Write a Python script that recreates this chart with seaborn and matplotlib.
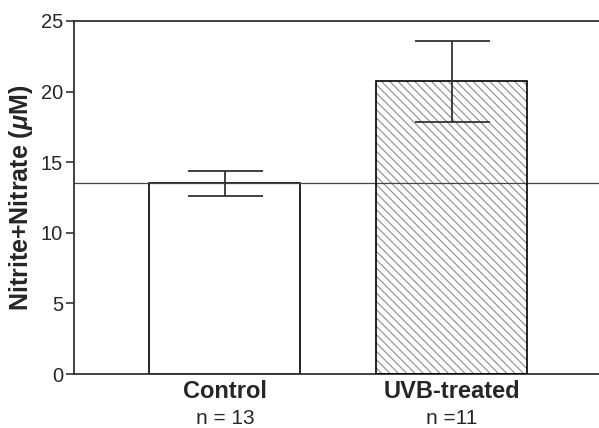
import matplotlib
matplotlib.use("Agg")
import matplotlib.pyplot as plt
import matplotlib.patches as mpatches
import seaborn as sns
import pandas as pd

groups = ["Control", "UVB-treated"]
n_labels = ["n = 13", "n =11"]
means = [13.5, 20.75]
err_low = [12.6, 17.85]
err_high = [14.4, 23.6]
y_ticks = [0, 5, 10, 15, 20, 25]

sns.set_style("ticks")
plt.rcParams['font.family'] = ['Liberation Sans', 'DejaVu Sans']
plt.rcParams['mathtext.fontset'] = 'custom'
plt.rcParams['mathtext.rm'] = 'Liberation Sans:bold'
plt.rcParams['mathtext.it'] = 'Liberation Sans:bold:italic'
plt.rcParams['hatch.linewidth'] = 0.8

df = pd.DataFrame({"group": groups, "value": means})

fig = plt.figure(figsize=(5.99, 4.28), dpi=100)
ax = fig.add_axes([74 / 599, 54 / 428, 525 / 599, 353 / 428])

sns.barplot(data=df, x="group", y="value", color="white", errorbar=None,
            width=0.665, ax=ax, edgecolor="black", linewidth=1.2)

# hatch the treated bar in grey, then redraw a black outline on top
p = ax.patches[1]
p.set_hatch("\\\\\\\\")
p.set_edgecolor("#8c8c8c")
p.set_linewidth(0)
bb = p.get_bbox()
ax.add_patch(mpatches.Rectangle((bb.x0, bb.y0), bb.width, bb.height,
                                fill=False, edgecolor="black", linewidth=1.2, zorder=3))

# reference line at control level
ax.axhline(means[0], color="#444444", linewidth=0.9, zorder=1)

yerr = [[m - lo for m, lo in zip(means, err_low)],
        [hi - m for m, hi in zip(means, err_high)]]
ax.errorbar(range(len(groups)), means, yerr=yerr, fmt="none", ecolor="#333333",
            elinewidth=1.3, capsize=27, capthick=1.3, zorder=4)

ax.set_xlim(-0.665, 1.648)
ax.set_ylim(0, 25)
ax.set_yticks(y_ticks)
ax.tick_params(axis="y", labelsize=14.5, length=6, width=1.2, color="#333333", pad=2)
ax.tick_params(axis="x", length=0, labelsize=17, pad=4)
ax.set_xticks(range(len(groups)))
ax.set_xticklabels(groups, fontweight="bold")
for i, lab in enumerate(n_labels):
    ax.annotate(lab, xy=(i, 0), xycoords=("data", "axes fraction"),
                xytext=(0, -25), textcoords="offset points",
                ha="center", va="top", fontsize=15)

ax.set_xlabel("")
ax.set_ylabel(r"Nitrite+Nitrate ($\mu$M)", fontsize=18, fontweight="bold", labelpad=4)

for side in ["left", "bottom", "top"]:
    ax.spines[side].set_color("#333333")
    ax.spines[side].set_linewidth(1.3)
ax.spines["right"].set_visible(False)

fig.savefig("out.png", dpi=100)
